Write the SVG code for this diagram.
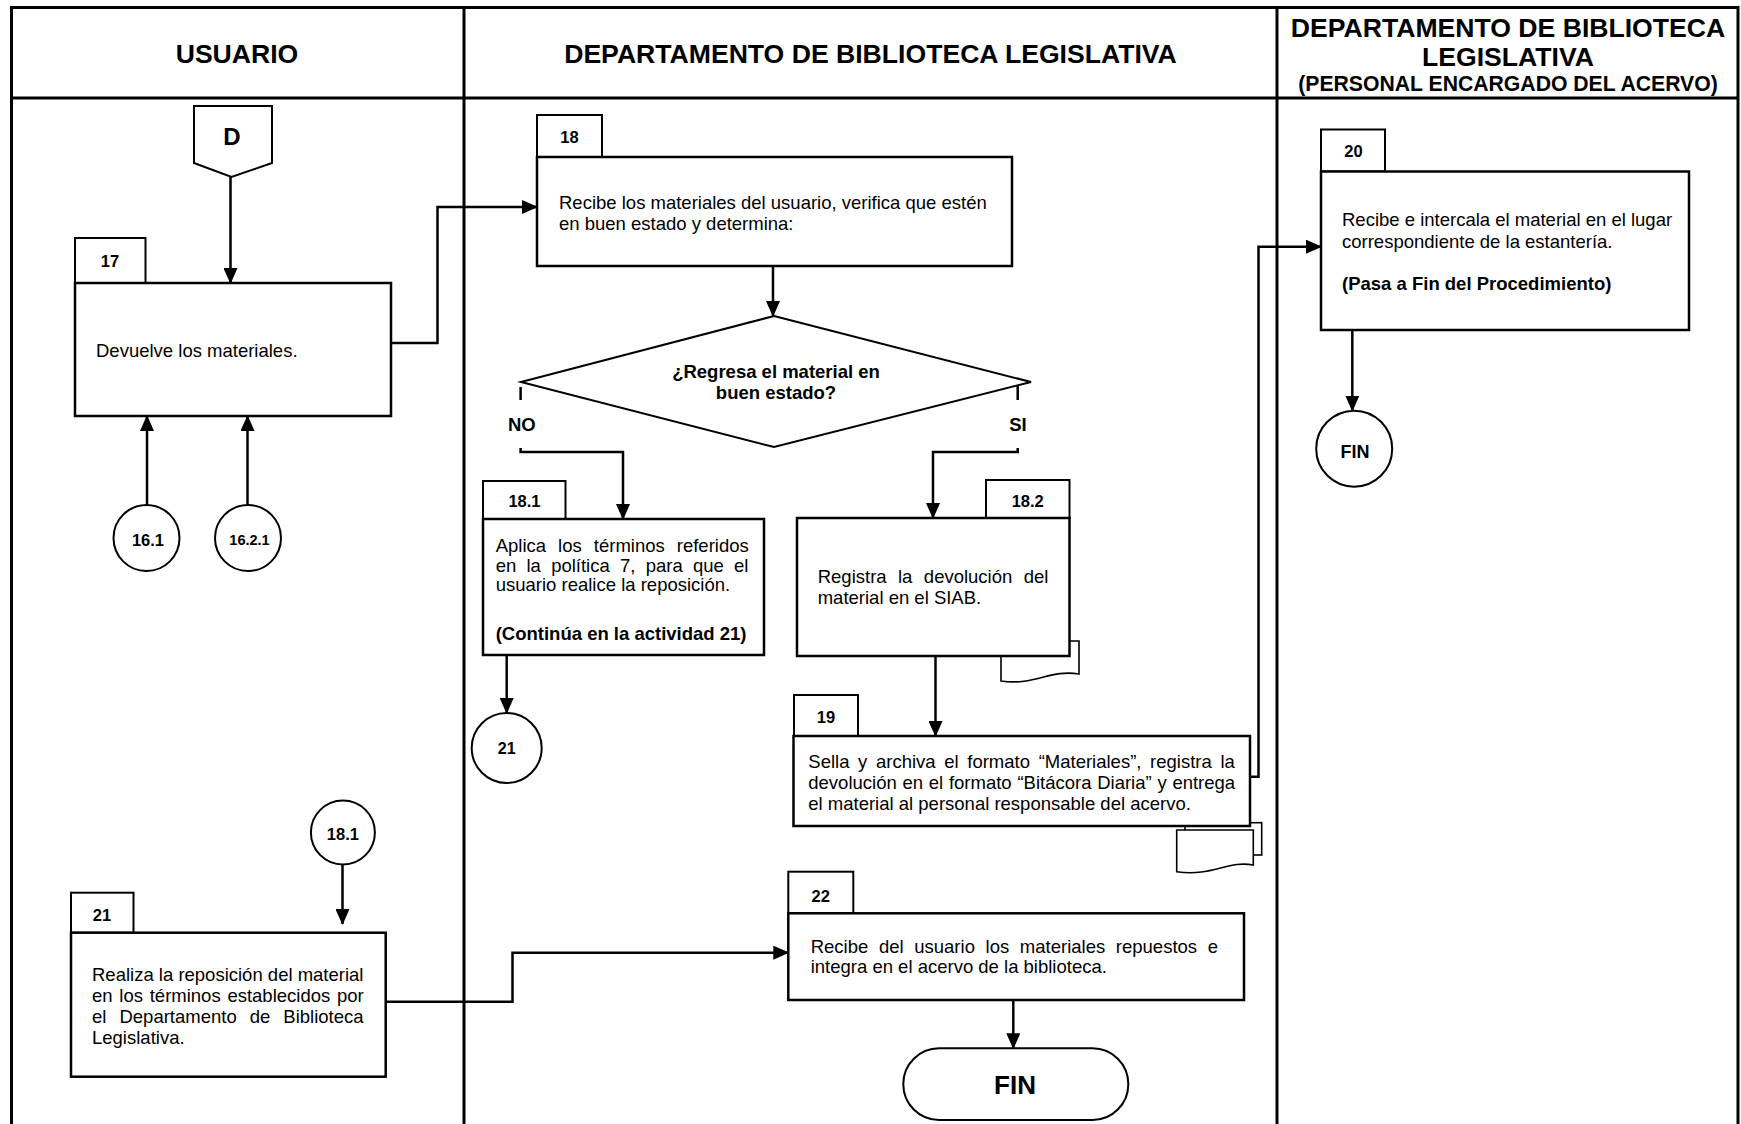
<svg xmlns="http://www.w3.org/2000/svg" width="1741" height="1124" viewBox="0 0 1741 1124">
<style>
text{font-family:'Liberation Sans',Arial,sans-serif;fill:#000}
.hd{font-size:26.6px;font-weight:bold;text-anchor:middle}
.hd2{font-size:21.2px;font-weight:bold;text-anchor:middle}
.t{font-size:18.5px}
.b{font-size:18.5px;font-weight:bold}
.tab{font-size:16.5px;font-weight:bold;text-anchor:middle}
.c{font-weight:bold;text-anchor:middle}
.box{fill:#fff;stroke:#000;stroke-width:2.5}
.tabr{fill:#fff;stroke:#000;stroke-width:2}
.doc{fill:#fff;stroke:#000;stroke-width:1.6}
.cir{fill:#fff;stroke:#000;stroke-width:2}
.lane{stroke:#000;stroke-width:3;fill:none}
.con{stroke:#000;stroke-width:2.5;fill:none}
</style>
<defs>
<marker id="ah" markerUnits="userSpaceOnUse" markerWidth="16" markerHeight="14" refX="15" refY="7" orient="auto"><path d="M0,0 L16,7 L0,14 Z" fill="#000"/></marker>
</defs>
<rect x="0" y="0" width="1741" height="1124" fill="#fff"/>
<g id="lanes">
<path class="lane" d="M11.5,1124 V7.5 H1738 V1124"/>
<line class="lane" x1="11.5" y1="98" x2="1738" y2="98"/>
<line class="lane" x1="464" y1="7.5" x2="464" y2="1124"/>
<line class="lane" x1="1277" y1="7.5" x2="1277" y2="1124"/>
<text class="hd" x="237" y="63">USUARIO</text>
<text class="hd" x="870.5" y="63">DEPARTAMENTO DE BIBLIOTECA LEGISLATIVA</text>
<text class="hd" x="1508" y="36.5">DEPARTAMENTO DE BIBLIOTECA</text>
<text class="hd" x="1508" y="65.5">LEGISLATIVA</text>
<text class="hd2" x="1508" y="91">(PERSONAL ENCARGADO DEL ACERVO)</text>
</g>
<g id="connectors">
<line class="con" x1="230.5" y1="177" x2="230.5" y2="283" marker-end="url(#ah)"/>
<polyline class="con" points="391,343 437.5,343 437.5,207 537,207" marker-end="url(#ah)"/>
<line class="con" x1="773" y1="266" x2="773" y2="316" marker-end="url(#ah)"/>
<line class="con" x1="520.6" y1="387" x2="520.6" y2="400"/>
<polyline class="con" points="520.6,448 520.6,452 623,452 623,519" marker-end="url(#ah)"/>
<line class="con" x1="1017.7" y1="385" x2="1017.7" y2="400"/>
<polyline class="con" points="1017.7,448 1017.7,452 933,452 933,518" marker-end="url(#ah)"/>
<line class="con" x1="506.7" y1="655" x2="506.7" y2="713" marker-end="url(#ah)"/>
<line class="con" x1="935.5" y1="656" x2="935.5" y2="736" marker-end="url(#ah)"/>
<polyline class="con" points="1250,776.7 1258.5,776.7 1258.5,246.7 1321,246.7" marker-end="url(#ah)"/>
<line class="con" x1="1352.3" y1="330" x2="1352.3" y2="410.7" marker-end="url(#ah)"/>
<line class="con" x1="147" y1="506" x2="147" y2="416" marker-end="url(#ah)"/>
<line class="con" x1="247.5" y1="506" x2="247.5" y2="416" marker-end="url(#ah)"/>
<line class="con" x1="342.5" y1="863.5" x2="342.5" y2="924" marker-end="url(#ah)"/>
<polyline class="con" points="385.7,1001.7 512.5,1001.7 512.5,952.7 788.3,952.7" marker-end="url(#ah)"/>
<line class="con" x1="1013.3" y1="1000" x2="1013.3" y2="1048.3" marker-end="url(#ah)"/>
</g>
<g id="nodeD">
<polygon points="194,106 272,106 272,163 231.5,177 194,163" fill="#fff" stroke="#000" stroke-width="2"/>
<text class="c" x="232" y="145" font-size="24">D</text>
</g>
<g id="node17">
<rect class="tabr" x="75" y="238" width="70.5" height="45"/>
<rect class="box" x="75" y="283" width="316" height="133"/>
<text class="tab" x="110" y="267">17</text>
<text class="t" x="96" y="357">Devuelve los materiales.</text>
</g>
<g id="node18">
<rect class="tabr" x="537" y="115" width="65" height="42"/>
<rect class="box" x="537" y="157" width="475" height="109"/>
<text class="tab" x="569.5" y="143">18</text>
<text class="t" x="559" y="209">Recibe los materiales del usuario, verifica que estén</text>
<text class="t" x="559" y="230">en buen estado y determina:</text>
</g>
<g id="decision">
<polygon points="774,316 1031,382 774,447 521,382" fill="#fff" stroke="#000" stroke-width="2"/>
<text class="b" x="776" y="378" text-anchor="middle">¿Regresa el material en</text>
<text class="b" x="776" y="399" text-anchor="middle">buen estado?</text>
<text class="b" x="508" y="431">NO</text>
<text class="b" x="1018" y="431" text-anchor="middle">SI</text>
</g>
<g id="node18_1">
<rect class="tabr" x="483" y="481" width="82.5" height="38"/>
<rect class="box" x="483" y="519" width="281" height="136"/>
<text class="tab" x="524.5" y="507">18.1</text>
<text class="t" x="495.7" y="552" word-spacing="6.9">Aplica los términos referidos</text>
<text class="t" x="495.7" y="572" word-spacing="5.1">en la política 7, para que el</text>
<text class="t" x="495.7" y="591">usuario realice la reposición.</text>
<text class="b" x="495.7" y="640">(Continúa en la actividad 21)</text>
</g>
<g id="conn21">
<circle class="cir" cx="506.7" cy="748" r="35"/>
<text class="c" x="506.7" y="754" font-size="16">21</text>
</g>
<g id="node18_2">
<path class="doc" d="M1001,641 H1079 V674 C1050,669 1035,686 1001,681 Z"/>
<rect class="tabr" x="986" y="480" width="83.5" height="38"/>
<rect class="box" x="797" y="518" width="272.5" height="138"/>
<text class="tab" x="1027.7" y="507">18.2</text>
<text class="t" x="817.7" y="583.3" word-spacing="6.3">Registra la devolución del</text>
<text class="t" x="817.7" y="604">material en el SIAB.</text>
</g>
<g id="node19">
<rect class="doc" x="1185" y="822.7" width="76.7" height="32.3"/>
<path class="doc" d="M1176.7,830 H1253.3 V865 C1228,860 1212,877 1176.7,871.7 Z"/>
<rect class="tabr" x="794" y="695" width="64" height="41"/>
<rect class="box" x="793.5" y="736" width="456.5" height="90"/>
<text class="tab" x="826" y="722.7">19</text>
<text class="t" x="808.3" y="768" word-spacing="3.5">Sella y archiva el formato “Materiales”, registra la</text>
<text class="t" x="808.3" y="789" word-spacing="0.6">devolución en el formato “Bitácora Diaria” y entrega</text>
<text class="t" x="808.3" y="810">el material al personal responsable del acervo.</text>
</g>
<g id="node20">
<rect class="tabr" x="1321" y="129.5" width="64" height="42"/>
<rect class="box" x="1321" y="171.5" width="368" height="158.5"/>
<text class="tab" x="1353.4" y="157">20</text>
<text class="t" x="1342" y="226">Recibe e intercala el material en el lugar</text>
<text class="t" x="1342" y="248.3">correspondiente de la estantería.</text>
<text class="b" x="1342" y="290">(Pasa a Fin del Procedimiento)</text>
</g>
<g id="fin20">
<circle class="cir" cx="1354.2" cy="448.7" r="38"/>
<text class="c" x="1355" y="458" font-size="18">FIN</text>
</g>
<g id="conn16_1">
<circle class="cir" cx="146.5" cy="538" r="33"/>
<text class="c" x="148" y="546" font-size="16.5">16.1</text>
</g>
<g id="conn16_2_1">
<circle class="cir" cx="248" cy="538" r="33"/>
<text class="c" x="249.5" y="545" font-size="14.5">16.2.1</text>
</g>
<g id="conn18_1">
<circle class="cir" cx="342.9" cy="832.5" r="32"/>
<text class="c" x="342.9" y="840" font-size="16.5">18.1</text>
</g>
<g id="node21">
<rect class="tabr" x="71" y="892.7" width="62.5" height="40"/>
<rect class="box" x="71" y="932.7" width="314.7" height="144"/>
<text class="tab" x="102" y="920.7">21</text>
<text class="t" x="92" y="980.7">Realiza la reposición del material</text>
<text class="t" x="92" y="1001.7" word-spacing="1.6">en los términos establecidos por</text>
<text class="t" x="92" y="1022.7" word-spacing="7.9">el Departamento de Biblioteca</text>
<text class="t" x="92" y="1044">Legislativa.</text>
</g>
<g id="node22">
<rect class="tabr" x="788.3" y="871.7" width="65" height="41.6"/>
<rect class="box" x="788.3" y="913.3" width="455.7" height="86.7"/>
<text class="tab" x="820.7" y="901.7">22</text>
<text class="t" x="810.7" y="952.7" word-spacing="5.5">Recibe del usuario los materiales repuestos e</text>
<text class="t" x="810.7" y="973.3">integra en el acervo de la biblioteca.</text>
</g>
<g id="finEnd">
<rect x="903.3" y="1048.3" width="225" height="71.7" rx="35.8" ry="35.8" fill="#fff" stroke="#000" stroke-width="2"/>
<text class="c" x="1015" y="1094" font-size="26">FIN</text>
</g>
</svg>
